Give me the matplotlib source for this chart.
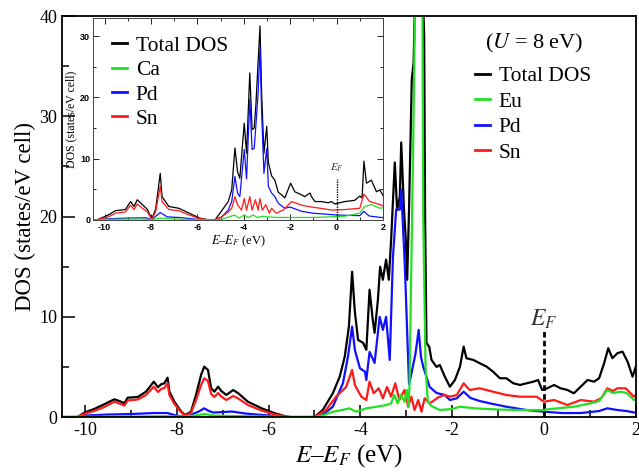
import matplotlib
matplotlib.use('Agg')
import matplotlib.pyplot as plt
from matplotlib.ticker import MultipleLocator

# === Fonts ===
plt.rcParams['font.family'] = ['Liberation Serif', 'DejaVu Serif']
plt.rcParams['mathtext.fontset'] = 'stix'
plt.rcParams['axes.unicode_minus'] = False

# === Main panel data (EuPdSn, U = 8 eV) ===
e_tot = [-10.5, -10.16, -10.0, -9.8, -9.58, -9.36, -9.25, -9.14, -9.07, -8.85, -8.67, -8.5, -8.41, -8.34,
         -8.27, -8.2, -8.16, -8.05, -7.9, -7.82, -7.69, -7.58, -7.47, -7.4, -7.32, -7.25, -7.18, -7.1,
         -7.03, -6.92, -6.77, -6.66, -6.45, -6.15, -5.86, -5.6, -5.5, -5.0, -4.82, -4.6, -4.45, -4.34,
         -4.25, -4.18, -4.12, -4.05, -3.94, -3.87, -3.8, -3.73, -3.69, -3.62, -3.57, -3.51, -3.44, -3.38,
         -3.33, -3.25, -3.2, -3.14, -3.11, -3.05, -3.01, -2.98, -2.94, -2.88, -2.84, -2.80, -2.65, -2.61,
         -2.59, -2.56, -2.5, -2.45, -2.34, -2.27, -2.16, -2.05, -1.94, -1.83, -1.75, -1.69, -1.54, -1.40,
         -1.25, -1.11, -0.96, -0.82, -0.67, -0.52, -0.38, -0.23, -0.13, -0.04, 0.07, 0.22, 0.36, 0.51,
         0.65, 0.80, 0.95, 1.09, 1.2, 1.31, 1.4, 1.49, 1.6, 1.71, 1.82, 1.93, 2.0]
dos_tot = [0, 0, 0.47, 0.8, 1.27, 1.77, 1.6, 1.37, 1.93, 2.0, 2.53, 3.53, 2.97, 3.27,
           3.37, 3.93, 2.53, 1.53, 0.53, 0.2, 0.53, 2.2, 4.2, 5.03, 4.7, 2.87, 2.53, 3.03,
           2.6, 2.2, 2.7, 2.37, 1.53, 0.87, 0.37, 0.03, 0, 0, 0.7, 2.37, 4.03, 6.03,
           9.03, 14.5, 10.5, 7.7, 7.4, 6.7, 12.7, 9.7, 8.4, 11.6, 15.0, 13.7, 15.7, 13.7,
           17.7, 25.4, 20.7, 22.0, 27.4, 20.7, 17.7, 13.7, 20.7, 33.7, 35.4, 44.0, 44.0, 38.0,
           20.0, 7.4, 7.0, 5.7, 5.0, 5.2, 4.03, 3.03, 3.7, 5.03, 7.03, 5.87, 5.7, 5.37,
           5.03, 4.53, 3.87, 3.87, 3.37, 3.2, 3.37, 3.53, 3.7, 2.7, 2.87, 3.2, 2.87, 2.7,
           2.37, 3.03, 3.7, 3.53, 3.87, 5.37, 6.87, 5.87, 6.37, 6.53, 5.53, 4.03, 5.03]

e_eu = [-10.5, -10.2, -9.0, -8.2, -7.9, -7.6, -7.4, -7.2, -6.8, -6.0, -5.6, -5.0, -4.8, -4.6, -4.4,
        -4.24, -4.09, -3.87, -3.65, -3.43, -3.33, -3.26, -3.19, -3.12, -3.04, -2.99, -2.95, -2.93,
        -2.90, -2.85, -2.80, -2.65, -2.63, -2.58, -2.53, -2.45, -2.27, -2.0, -1.83, -1.5, -1.0, -0.5,
        -0.06, 0.3, 0.65, 1.02, 1.2, 1.38, 1.5, 1.67, 1.8, 1.96, 2.0]
dos_eu = [0, 0.03, 0.05, 0.08, 0.05, 0.15, 0.3, 0.15, 0.1, 0.05, 0, 0, 0.2, 0.53, 0.7,
          0.87, 0.53, 0.87, 1.03, 1.2, 1.37, 2.2, 1.37, 2.2, 1.53, 2.7, 1.0, 3.0,
          12.0, 27.0, 44.0, 44.0, 20.0, 5.0, 1.5, 1.1, 0.7, 0.8, 1.03, 0.87, 0.75, 0.7,
          0.7, 0.87, 1.03, 1.37, 1.6, 2.7, 2.4, 2.53, 2.4, 1.7, 1.8]

e_pd = [-10.5, -10.16, -10.0, -9.5, -9.0, -8.5, -8.2, -8.05, -7.9, -7.7, -7.5, -7.4, -7.3, -7.2,
        -7.0, -6.8, -6.5, -6.0, -5.6, -5.0, -4.8, -4.6, -4.38, -4.27, -4.18, -4.12, -4.01, -3.9,
        -3.87, -3.8, -3.69, -3.58, -3.51, -3.44, -3.36, -3.29, -3.22, -3.14, -3.11, -3.03, -2.98,
        -2.94, -2.89, -2.8, -2.73, -2.68, -2.63, -2.56, -2.49, -2.34, -2.16, -2.05, -1.9, -1.75,
        -1.6, -1.4, -1.18, -0.82, -0.38, 0.0, 0.4, 0.8, 1.2, 1.38, 1.6, 1.8, 2.0]
dos_pd = [0, 0, 0.15, 0.25, 0.3, 0.4, 0.4, 0.2, 0.05, 0.2, 0.6, 0.87, 0.6, 0.45,
          0.5, 0.55, 0.35, 0.15, 0, 0, 0.3, 1.03, 3.37, 6.03, 9.03, 6.7, 4.87, 4.53,
          3.7, 6.5, 5.4, 10.0, 8.7, 10.0, 5.7, 16.0, 20.7, 20.7, 22.7, 15.0, 8.4,
          3.3, 4.3, 6.3, 8.7, 6.0, 5.0, 4.0, 3.0, 2.4, 2.2, 1.7, 1.87, 2.53,
          1.9, 1.6, 1.37, 1.03, 0.7, 0.53, 0.4, 0.4, 0.6, 0.87, 0.7, 0.6, 0.43]

e_sn = [-10.5, -10.16, -10.0, -9.8, -9.58, -9.36, -9.25, -9.14, -9.07, -8.85, -8.67, -8.5, -8.41,
        -8.34, -8.27, -8.2, -8.16, -8.05, -7.9, -7.82, -7.69, -7.58, -7.47, -7.4, -7.32, -7.25,
        -7.18, -7.1, -7.03, -6.92, -6.77, -6.66, -6.45, -6.15, -5.86, -5.6, -5.5, -5.0, -4.75,
        -4.53, -4.31, -4.18, -4.12, -3.98, -3.87, -3.8, -3.71, -3.6, -3.51, -3.42, -3.33, -3.24,
        -3.15, -3.04, -2.96, -2.89, -2.82, -2.74, -2.67, -2.6, -2.49, -2.29, -2.16, -2.05, -1.9,
        -1.75, -1.62, -1.40, -1.11, -0.82, -0.52, -0.16, 0.0, 0.22, 0.51, 0.80, 1.09, 1.25, 1.38,
        1.5, 1.6, 1.78, 1.96, 2.0]
dos_sn = [0, 0, 0.35, 0.6, 1.0, 1.53, 1.35, 1.15, 1.65, 1.75, 2.2, 3.03, 2.5,
          2.8, 2.9, 3.37, 2.2, 1.3, 0.45, 0.15, 0.4, 1.7, 3.2, 3.87, 3.6, 2.3,
          2.0, 2.4, 2.05, 1.7, 2.1, 1.85, 1.2, 0.65, 0.25, 0.02, 0, 0, 0.7,
          2.03, 3.0, 4.7, 3.2, 2.03, 1.7, 3.53, 2.37, 2.87, 1.87, 3.0, 2.03, 3.37,
          1.7, 2.7, 1.03, 2.03, 0.7, 1.7, 0.53, 1.87, 1.37, 2.0, 2.2, 2.03, 2.2,
          3.37, 2.7, 2.87, 2.53, 2.2, 2.03, 2.03, 1.53, 1.7, 1.2, 1.7, 1.53, 1.9, 2.87,
          2.6, 2.87, 2.87, 2.03, 2.2]

# === Inset data (CaPdSn) ===
ie_tot = [-10.5, -10.33, -9.83, -9.54, -9.1, -8.88, -8.73, -8.59, -8.37, -8.15, -7.97, -7.8, -7.6,
          -7.52, -7.23, -6.8, -6.35, -5.9, -5.5, -5.24, -4.95, -4.67, -4.52, -4.38, -4.27, -4.17,
          -3.98, -3.88, -3.74, -3.64, -3.55, -3.48, -3.38, -3.3, -3.23, -3.13, -3.01, -2.94, -2.8,
          -2.66, -2.51, -2.37, -2.23, -1.98, -1.8, -1.51, -1.37, -1.15, -1.08, -0.93, -0.65, -0.36,
          -0.22, -0.08, 0.35, 0.78, 1.0, 1.1, 1.18, 1.29, 1.5, 1.72, 1.87, 2.0]
idos_tot = [0, 0, 0.82, 1.5, 1.7, 3.0, 2.2, 3.3, 2.5, 1.7, 0.16, 1.7, 7.6,
            3.8, 2.2, 1.9, 1.1, 0.3, 0, 0, 1.5, 3.0, 4.9, 11.75, 7.9, 6.8,
            15.8, 10.9, 24.0, 14.75, 15.0, 18.6, 25.9, 31.7, 20.8, 10.9, 15.3, 9.4, 7.2,
            6.5, 4.5, 4.1, 3.6, 6.0, 4.6, 4.1, 3.8, 4.4, 3.8, 3.0, 3.0, 2.8,
            3.0, 2.6, 3.0, 3.2, 3.9, 3.6, 9.6, 6.0, 6.5, 4.6, 4.9, 4.0]

ie_ca = [-10.5, -10.33, -9.8, -8.5, -7.97, -7.6, -7.0, -6.0, -5.5, -5.24, -4.95, -4.4, -4.2, -3.98,
         -3.8, -3.6, -3.4, -3.2, -3.0, -2.5, -1.0, 0.35, 1.0, 1.2, 1.5, 1.87, 2.0]
idos_ca = [0, 0, 0.1, 0.15, 0.05, 0.3, 0.15, 0.05, 0, 0, 0.1, 0.8, 0.3, 0.8,
           0.4, 0.8, 0.4, 0.6, 0.5, 0.4, 0.4, 0.6, 1.1, 2.2, 2.5, 1.9, 2.0]

ie_pd = [-10.5, -10.33, -9.8, -9.0, -8.2, -7.97, -7.6, -7.3, -6.8, -6.0, -5.5, -5.24, -4.95, -4.67,
         -4.52, -4.38, -4.27, -4.17, -3.98, -3.88, -3.74, -3.64, -3.55, -3.48, -3.38, -3.3, -3.23,
         -3.13, -3.01, -2.94, -2.8, -2.66, -2.51, -2.23, -2.0, -1.5, -1.0, 0.0, 1.0, 1.18, 1.4,
         1.9, 2.0]
idos_pd = [0, 0, 0.2, 0.3, 0.35, 0.05, 1.2, 0.5, 0.4, 0.1, 0, 0, 0.5, 1.6,
           3.0, 7.1, 4.4, 3.8, 11.5, 6.7, 19.7, 11.5, 11.7, 15.3, 20.8, 28.4, 17.6,
           7.6, 11.7, 5.5, 4.4, 3.8, 2.7, 1.9, 2.1, 1.4, 1.1, 0.8, 0.7, 1.4, 0.65,
           0.4, 0.4]

ie_sn = [-10.5, -10.33, -9.83, -9.54, -9.1, -8.88, -8.73, -8.59, -8.37, -8.15, -7.97, -7.8, -7.6,
         -7.52, -7.23, -6.8, -6.35, -5.9, -5.5, -5.24, -4.95, -4.67, -4.52, -4.38, -4.27, -4.1,
         -3.98, -3.88, -3.74, -3.64, -3.5, -3.38, -3.3, -3.2, -3.05, -2.9, -2.8, -2.6, -2.3,
         -1.94, -1.5, -1.08, -0.5, -0.22, 0.35, 1.0, 1.18, 1.43, 1.87, 2.0]
idos_sn = [0, 0, 0.5, 1.1, 1.3, 2.4, 1.7, 2.6, 1.9, 1.3, 0.1, 1.3, 5.5,
           3.0, 1.7, 1.5, 0.8, 0.2, 0, 0, 0.5, 1.3, 1.9, 3.8, 2.5, 1.6,
           3.5, 1.6, 3.8, 1.6, 3.3, 1.6, 3.5, 1.6, 2.5, 1.1, 1.9, 1.1, 1.6,
           3.0, 2.4, 2.1, 1.8, 1.6, 1.7, 1.9, 4.2, 3.0, 2.5, 2.3]

legend_main = ["Total DOS", "Eu", "Pd", "Sn"]
legend_inset = ["Total DOS", "Ca", "Pd", "Sn"]
c_tot, c_green, c_blue, c_red = 'black', '#22e022', '#1010ff', '#ff1a1a'

# === Main axes ===
fig = plt.figure(figsize=(6.39, 4.75), dpi=100)
ax = fig.add_axes([0.097, 0.122, 0.898, 0.844])

ax.plot(e_tot, dos_tot, color=c_tot, lw=1.6, label=legend_main[0])
ax.plot(e_pd, dos_pd, color=c_blue, lw=1.6, label=legend_main[2])
ax.plot(e_sn, dos_sn, color=c_red, lw=1.6, label=legend_main[3])
ax.plot(e_eu, dos_eu, color=c_green, lw=1.6, label=legend_main[1])

ax.set_xlim(-10.5, 2)
ax.set_ylim(0, 40)
ax.xaxis.set_major_locator(MultipleLocator(2))
ax.xaxis.set_minor_locator(MultipleLocator(1))
ax.yaxis.set_major_locator(MultipleLocator(10))
ax.yaxis.set_minor_locator(MultipleLocator(5))
ax.tick_params(which='both', direction='in', top=False, right=False, labelsize=13, width=1.1)
ax.tick_params(which='major', length=9)
ax.tick_params(which='minor', length=5)
for sp in ax.spines.values():
    sp.set_linewidth(1.3)
ax.set_xlabel("$E$–$E_F$ (eV)", fontsize=18, labelpad=2)
ax.set_ylabel("DOS (states/eV cell)", fontsize=16.5, labelpad=2)

# Fermi level marker
ax.plot([0, 0], [0, 8.6], color='black', lw=2, ls=(0, (2, 1.2)))
ax.text(0, 9.7, "$E_F$", fontsize=17, ha='center', va='center', color='#333333')

ax.text(0.822, 0.933, "($U$ = 8 eV)", transform=ax.transAxes, fontsize=16, ha='center', va='center')
handles, labels = ax.get_legend_handles_labels()
order = [labels.index(l) for l in legend_main]
leg = ax.legend([handles[i] for i in order], legend_main, loc='upper left',
                bbox_to_anchor=(0.7195, 0.875), frameon=False, fontsize=15.5,
                handlelength=0.7, handletextpad=0.4, labelspacing=0.25,
                borderpad=0, borderaxespad=0)
for h in leg.get_lines():
    h.set_linewidth(2)

# === Inset ===
ins = fig.add_axes([0.1455, 0.537, 0.4538, 0.4253])
ins.set_facecolor('white')
ins.plot(ie_tot, idos_tot, color=c_tot, lw=0.9, label=legend_inset[0])
ins.plot(ie_pd, idos_pd, color=c_blue, lw=0.9, label=legend_inset[2])
ins.plot(ie_sn, idos_sn, color=c_red, lw=0.9, label=legend_inset[3])
ins.plot(ie_ca, idos_ca, color=c_green, lw=0.9, label=legend_inset[1])
ins.set_xlim(-10.5, 2)
ins.set_ylim(0, 33)
ins.xaxis.set_major_locator(MultipleLocator(2))
ins.xaxis.set_minor_locator(MultipleLocator(1))
ins.yaxis.set_major_locator(MultipleLocator(10))
ins.yaxis.set_minor_locator(MultipleLocator(5))
ins.tick_params(which='both', direction='in', top=True, right=True, width=0.6, pad=2, labelsize=6.5)
ins.tick_params(which='major', length=4)
ins.tick_params(which='minor', length=2.5)
for lab in ins.get_xticklabels() + ins.get_yticklabels():
    lab.set_family('Liberation Sans')
    lab.set_fontweight('bold')
for sp in ins.spines.values():
    sp.set_linewidth(0.7)
    sp.set_color('#444444')
ins.set_xlabel("$E$–$E_F$ (eV)", fontsize=9, labelpad=1)
ins.set_ylabel("DOS (states/eV cell)", fontsize=8.5, labelpad=2)

ins.plot([0, 0], [0, 6.7], color='black', lw=1, ls=(0, (1, 0.8)))
ins.text(0, 8.6, "$E_F$", fontsize=8, ha='center', va='center', color='#333333')

handles, labels = ins.get_legend_handles_labels()
order = [labels.index(l) for l in legend_inset]
leg2 = ins.legend([handles[i] for i in order], legend_inset, loc='upper left',
                  bbox_to_anchor=(0.0655, 0.912), frameon=False, fontsize=15.5,
                  handlelength=0.7, handletextpad=0.4, labelspacing=0.2,
                  borderpad=0, borderaxespad=0)
for h in leg2.get_lines():
    h.set_linewidth(2)

fig.savefig('out.png', dpi=100)
